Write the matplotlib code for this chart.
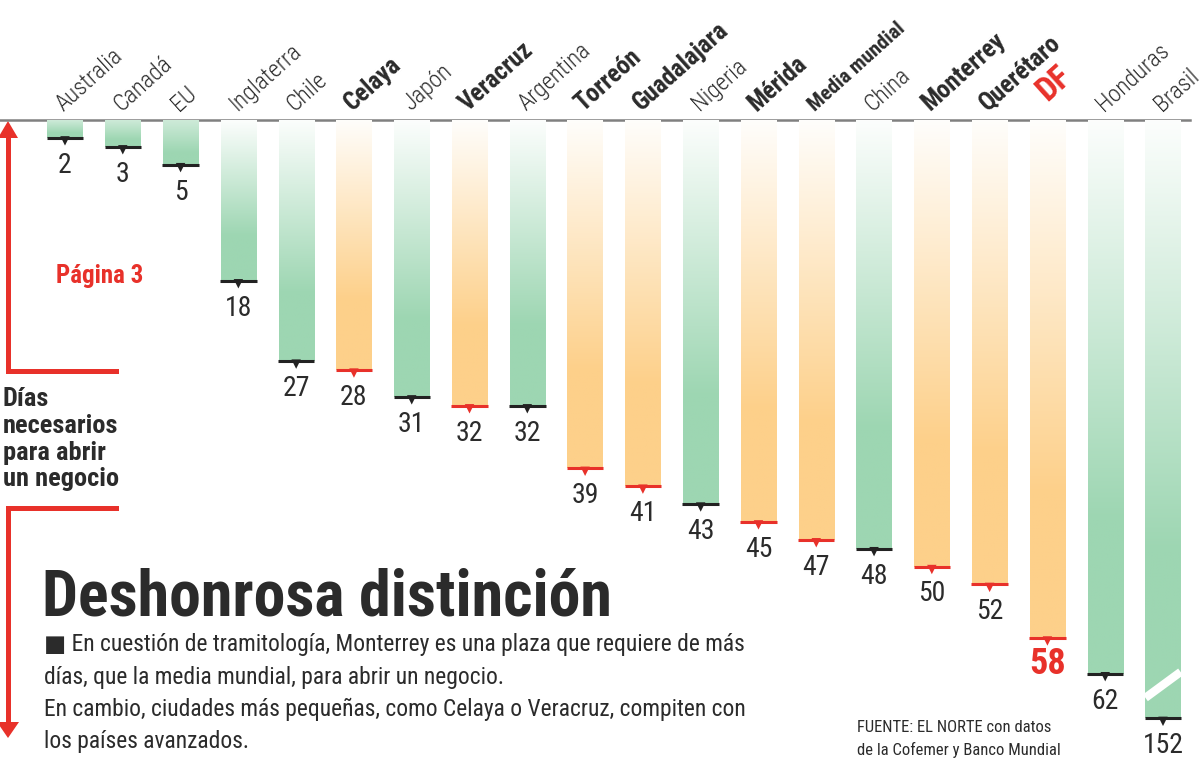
import numpy as np
import matplotlib
matplotlib.use('Agg')
import matplotlib.pyplot as plt
from matplotlib import font_manager as fm
import matplotlib.transforms as mtransforms

# datos
paises = ['Australia', 'Canadá', 'EU', 'Inglaterra', 'Chile', 'Celaya', 'Japón',
          'Veracruz', 'Argentina', 'Torreón', 'Guadalajara', 'Nigeria', 'Mérida',
          'Media mundial', 'China', 'Monterrey', 'Querétaro', 'DF', 'Honduras', 'Brasil']
dias = [2, 3, 5, 18, 27, 28, 31, 32, 32, 39, 41, 43, 45, 47, 48, 50, 52, 58, 62, 152]
# ciudades mexicanas y la media (barras naranjas, nombre en negritas)
resaltados = ['Celaya', 'Veracruz', 'Torreón', 'Guadalajara', 'Mérida', 'Media mundial',
              'Monterrey', 'Querétaro', 'DF']
tope = 67  # la barra de Brasil se corta aqui

titulo = 'Deshonrosa distinción'
texto = ['■ En cuestión de tramitología, Monterrey es una plaza que requiere de más',
         'días, que la media mundial, para abrir un negocio.',
         'En cambio, ciudades más pequeñas, como Celaya o Veracruz, compiten con',
         'los países avanzados.']
fuente = ['FUENTE: EL NORTE con datos', 'de la Cofemer y Banco Mundial']
etiqueta_eje = ['Días', 'necesarios', 'para abrir', 'un negocio']

VERDE = (157/255, 214/255, 178/255)
NARANJA = (253/255, 208/255, 138/255)
ROJO = '#e8312a'
NEGRO = '#2b2b2b'

nombres = {f.name for f in fm.fontManager.ttflist}
STRETCH = 'normal'
if 'Roboto Condensed' in nombres:
    FONT = 'Roboto Condensed'
elif 'Liberation Sans Narrow' in nombres:
    FONT = 'Liberation Sans Narrow'
else:
    FONT = 'DejaVu Sans'
    STRETCH = 'condensed'
plt.rcParams['font.family'] = [FONT, 'DejaVu Sans']
plt.rcParams['font.stretch'] = STRETCH

fig = plt.figure(figsize=(12.04, 7.72), dpi=100)

# capa en pixeles para los adornos
ax0 = fig.add_axes([0, 0, 1, 1])
ax0.set_xlim(0, 1204)
ax0.set_ylim(772, 0)
ax0.axis('off')

# ejes de las barras: 0 dias arriba (y=120 px), ~8.93 px por dia
ax = fig.add_axes([36.1/1204, 9/772, 1155.8/1204, 643/772])
ax.patch.set_alpha(0)

x = np.arange(len(paises))
alto = np.minimum(dias, tope)
bars = ax.bar(x, alto, width=0.61, color='none', edgecolor='none')

bordes = []
for b, pais, v in zip(bars, paises, dias):
    color = NARANJA if pais in resaltados else VERDE
    bordes.append(ROJO if pais in resaltados else '#222222')
    t = np.clip(np.linspace(0, 1, 200) / 0.72, 0, 1)
    t0 = 0.5 if v < 10 else 0.03
    t = t0 + (1 - t0) * t
    rgb = 1 - t[:, None] * (1 - np.array(color))
    im = ax.imshow(rgb[:, None, :], extent=(b.get_x(), b.get_x() + b.get_width(), b.get_height(), 0),
                   origin='upper', aspect='auto', interpolation='bilinear', zorder=1)
    im.set_clip_path(b)

izq = np.array([b.get_x() for b in bars])
ancho = np.array([b.get_width() for b in bars])
ax.hlines(alto, izq - 0.01, izq + ancho + 0.01, colors=bordes, lw=2.2, zorder=3)
abajo = mtransforms.offset_copy(ax.transData, fig=fig, x=0, y=-3, units='dots')
ax.scatter(x, alto, marker='v', s=46, c=bordes, transform=abajo, zorder=3, linewidths=0)

# corte de Brasil
ib = paises.index('Brasil')
ax.plot([izq[ib], izq[ib] + ancho[ib]], [64.7, 61.8], color='white', lw=6,
        solid_capstyle='butt', zorder=2)

# valores
for xi, v, h, pais in zip(x, dias, alto, paises):
    if pais == 'DF':
        ax.annotate(str(v), (xi, h), xytext=(0, -6), textcoords='offset points', ha='center',
                    va='top', fontsize=26, fontweight='bold', color=ROJO)
    else:
        ax.annotate(str(v), (xi, h), xytext=(0, -10), textcoords='offset points', ha='center',
                    va='top', fontsize=20, color=NEGRO)

# nombres inclinados
for xi, pais in zip(x, paises):
    kw = dict(fontsize=17, color=NEGRO, fontweight='light')
    pos = (-1, 6)
    if pais in resaltados:
        kw.update(fontweight='bold', fontsize=18)
    if pais == 'Media mundial':
        kw.update(fontsize=15)
    if pais == 'DF':
        kw.update(fontsize=24, color=ROJO)
        pos = (0, 13)
    ax.annotate(pais, (xi, 0), xytext=pos, textcoords='offset points', rotation=42,
                rotation_mode='anchor', ha='left', va='baseline', **kw)

ax.set_xlim(-0.5, 19.5)
ax.set_ylim(72, 0)
ax.axis('off')

# linea base
ax0.plot([0, 1190], [120, 120], color='#808080', lw=1.8)

# flecha roja izquierda
ax0.plot([8, 8, 116], [135, 371, 371], color=ROJO, lw=3.6, solid_joinstyle='miter')
ax0.fill([-2, 8, 18], [138, 121, 138], color=ROJO, lw=0)
ax0.plot([116, 8, 8], [508, 508, 722], color=ROJO, lw=3.6, solid_joinstyle='miter')
ax0.fill([-3, 19, 8], [722, 722, 738], color=ROJO, lw=0)

for linea, yb in zip(etiqueta_eje, [406, 433, 460, 486]):
    ax0.text(3, yb, linea, fontsize=19, fontweight='bold', color=NEGRO, va='baseline')
ax0.text(56, 283, 'Página 3', fontsize=18, fontweight='bold', color=ROJO, va='baseline')

ax0.text(42, 615, titulo, fontsize=46, fontweight='bold', color=NEGRO, va='baseline')
for linea, yb in zip(texto, [651, 684, 716, 748]):
    ax0.text(44, yb, linea, fontsize=16.9, color=NEGRO, va='baseline')
for linea, yb in zip(fuente, [732, 755]):
    ax0.text(857, yb, linea, fontsize=12, color=NEGRO, va='baseline')

fig.savefig('out.png', dpi=100)
